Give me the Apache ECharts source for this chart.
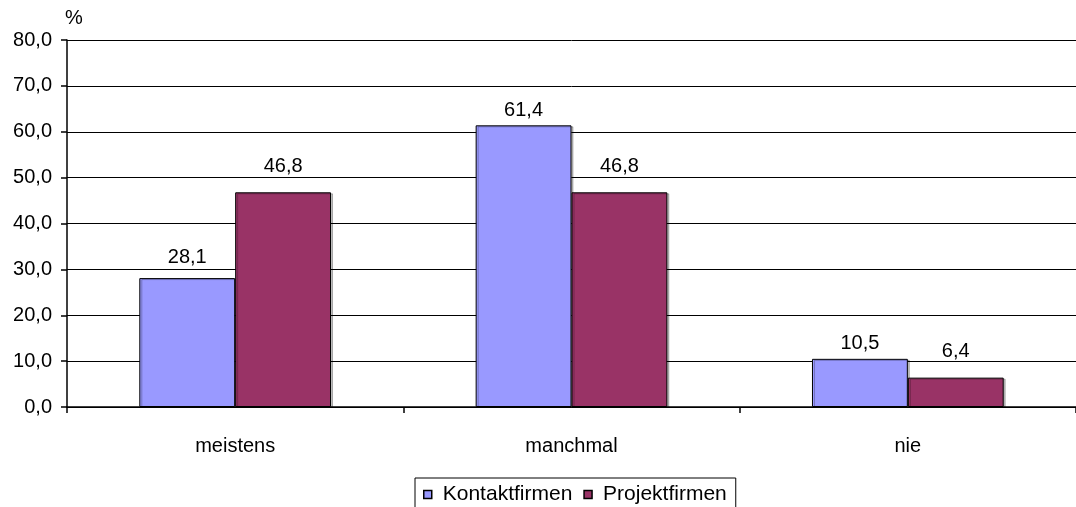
<!DOCTYPE html>
<html>
<head>
<meta charset="utf-8">
<script src="https://cdn.jsdelivr.net/npm/echarts@6/dist/echarts.min.js"></script>
<style>
html,body{margin:0;padding:0;background:#fff;}
#chart{width:1076px;height:507px;}
</style>
</head>
<body>
<div id="chart"></div>
<script>
const categories = ['meistens', 'manchmal', 'nie'];
const kontaktfirmen = [28.1, 61.4, 10.5];
const projektfirmen = [46.8, 46.8, 6.4];
const yTicks = { min: 0, max: 80, interval: 10 };

// spacing (px) between each bar top and its value label
const kontaktLabelGap = [11, 5, 5];
const projektLabelGap = [16, 16, 16];

const fmt = v => v.toFixed(1).replace('.', ',');
const FONT = 'Liberation Sans, Arial, sans-serif';
const FS = 20;

const chart = echarts.init(document.getElementById('chart'), null, { renderer: 'canvas' });

function barSeries(name, values, gaps, color) {
  return {
    name: name,
    type: 'bar',
    data: values.map((v, i) => ({ value: v, label: { distance: gaps[i] } })),
    barGap: '0%',
    barCategoryGap: '43%',
    itemStyle: {
      color: color,
      borderColor: '#000',
      borderWidth: 1,
      shadowColor: 'rgba(0,0,0,0.25)',
      shadowOffsetX: 2,
      shadowOffsetY: 1
    },
    label: {
      show: true,
      position: 'top',
      color: '#000',
      fontFamily: FONT,
      fontSize: FS,
      formatter: p => fmt(p.value)
    }
  };
}

chart.setOption({
  animation: false,
  backgroundColor: '#fff',
  textStyle: { fontFamily: FONT },
  grid: { left: 67, top: 40, width: 1023, height: 367, containLabel: false },
  legend: {
    left: 415,
    top: 478,
    itemWidth: 8,
    itemHeight: 8,
    itemGap: 11,
    padding: [6, 9, 12, 8],
    borderColor: '#000',
    borderWidth: 1,
    icon: 'rect',
    itemStyle: { borderColor: '#000', borderWidth: 1.5 },
    textStyle: { fontFamily: FONT, fontSize: 21, color: '#000', padding: [0, 0, 0, 6] },
    data: ['Kontaktfirmen', 'Projektfirmen']
  },
  xAxis: {
    type: 'category',
    data: categories,
    axisLine: { lineStyle: { color: '#000', width: 1.5 } },
    axisTick: { show: true, alignWithLabel: false, length: 6, lineStyle: { color: '#000', width: 1.5 } },
    axisLabel: { color: '#000', fontFamily: FONT, fontSize: FS, margin: 29 },
    splitLine: { show: false }
  },
  yAxis: {
    type: 'value',
    min: yTicks.min,
    max: yTicks.max,
    interval: yTicks.interval,
    name: '%',
    nameLocation: 'end',
    nameGap: 12,
    nameTextStyle: { color: '#000', fontFamily: FONT, fontSize: FS, align: 'left', padding: [0, 0, 0, -2] },
    axisLine: { show: true, lineStyle: { color: '#000', width: 1.5 } },
    axisTick: { show: true, length: 6, lineStyle: { color: '#000', width: 1.5 } },
    axisLabel: { color: '#000', fontFamily: FONT, fontSize: FS, margin: 15, formatter: v => fmt(v) },
    splitLine: { show: true, lineStyle: { color: '#000', width: 1 } }
  },
  series: [
    barSeries('Kontaktfirmen', kontaktfirmen, kontaktLabelGap, '#9999FF'),
    barSeries('Projektfirmen', projektfirmen, projektLabelGap, '#993366')
  ]
});
</script>
</body>
</html>
